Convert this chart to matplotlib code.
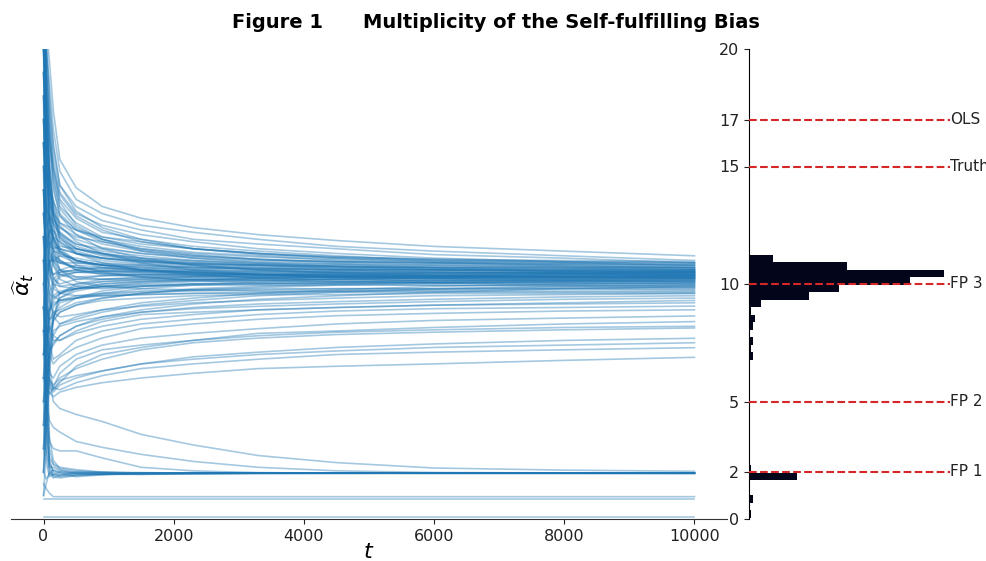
import matplotlib
matplotlib.use("Agg")
import matplotlib.pyplot as plt

# ---------------- data ----------------
t_grid = [0, 40, 90, 150, 250, 500, 900, 1500, 2300, 3300, 4500, 6000, 8000, 10000]

main_paths = [
    # high start, ending 10.4-11.2
    [24, 21, 19.5, 17.4, 15.3, 14.1, 13.3, 12.8, 12.4, 12.1, 11.85, 11.6, 11.4, 11.2],
    [22, 20, 18.5, 16.6, 14.8, 13.6, 13.0, 12.5, 12.2, 11.9, 11.6, 11.4, 11.2, 11.0],
    [25, 20, 17.6, 16.0, 14.2, 13.3, 12.7, 12.3, 11.9, 11.7, 11.5, 11.25, 11.1, 10.9],
    [21, 19, 17.0, 15.4, 13.9, 13.0, 12.5, 12.1, 11.8, 11.5, 11.3, 11.1, 10.95, 10.8],
    [23, 18, 16.2, 14.8, 13.6, 12.8, 12.2, 11.9, 11.6, 11.4, 11.2, 11.0, 10.9, 10.75],
    [20, 17, 15.8, 14.4, 13.3, 12.6, 12.0, 11.8, 11.5, 11.3, 11.1, 10.95, 10.8, 10.7],
    [19, 16.5, 15.0, 14.0, 13.0, 12.3, 11.9, 11.6, 11.35, 11.2, 11.0, 10.9, 10.75, 10.65],
    [24, 18, 14.5, 13.6, 12.6, 12.1, 11.7, 11.4, 11.2, 11.05, 10.9, 10.8, 10.7, 10.6],
    [18, 15.5, 14.2, 13.2, 12.4, 11.9, 11.55, 11.3, 11.1, 10.95, 10.85, 10.7, 10.6, 10.55],
    [22, 17, 14.0, 12.9, 12.2, 11.7, 11.4, 11.2, 11.0, 10.85, 10.75, 10.65, 10.55, 10.5],
    [17, 15, 13.6, 12.6, 12.0, 11.5, 11.25, 11.05, 10.9, 10.8, 10.65, 10.6, 10.5, 10.45],
    [25, 19, 15.2, 13.0, 11.8, 11.3, 11.1, 10.9, 10.8, 10.7, 10.6, 10.5, 10.45, 10.4],
    # moderate start, ending 10.0-10.9
    [16, 14.5, 13.4, 13.0, 12.6, 12.3, 12.0, 11.7, 11.5, 11.3, 11.15, 11.05, 10.95, 10.9],
    [14, 13.2, 12.9, 12.7, 12.4, 12.0, 11.8, 11.5, 11.3, 11.15, 11.05, 10.95, 10.9, 10.85],
    [12, 12.5, 12.8, 12.6, 12.1, 11.7, 11.5, 11.3, 11.15, 11.0, 10.95, 10.9, 10.85, 10.8],
    [10, 11.5, 12.2, 12.3, 11.9, 11.5, 11.3, 11.1, 11.0, 10.9, 10.85, 10.8, 10.75, 10.7],
    [15, 13, 12.0, 11.6, 11.5, 11.3, 11.1, 11.0, 10.9, 10.8, 10.75, 10.7, 10.65, 10.6],
    [9, 10.5, 11.6, 12.0, 11.8, 11.4, 11.1, 10.95, 10.85, 10.75, 10.7, 10.6, 10.6, 10.55],
    [13, 12, 11.3, 11.0, 10.9, 10.9, 10.85, 10.8, 10.7, 10.65, 10.6, 10.55, 10.5, 10.5],
    [8, 10, 11.0, 11.4, 11.3, 11.0, 10.8, 10.7, 10.65, 10.6, 10.55, 10.5, 10.45, 10.45],
    [14, 12, 10.8, 10.4, 10.5, 10.6, 10.7, 10.65, 10.6, 10.55, 10.5, 10.45, 10.45, 10.4],
    [11, 11.5, 11.8, 11.5, 11.0, 10.7, 10.6, 10.55, 10.5, 10.45, 10.4, 10.4, 10.35, 10.35],
    [17, 13, 11.0, 10.2, 10.0, 10.2, 10.35, 10.4, 10.4, 10.4, 10.35, 10.35, 10.3, 10.3],
    [6, 8, 9.5, 10.2, 10.5, 10.6, 10.5, 10.45, 10.4, 10.3, 10.3, 10.25, 10.2, 10.2],
    [15, 12, 10.5, 9.8, 9.6, 9.8, 10.0, 10.1, 10.15, 10.15, 10.1, 10.15, 10.1, 10.1],
    [7, 9, 10.8, 11.2, 11.0, 10.6, 10.4, 10.3, 10.2, 10.15, 10.1, 10.05, 10.0, 10.0],
    # coming from below, ending 9.3-10.5
    [1, 3, 6.0, 8.5, 9.6, 10.0, 10.2, 10.3, 10.35, 10.4, 10.45, 10.45, 10.5, 10.5],
    [4, 6, 8.0, 9.0, 9.4, 9.7, 9.9, 10.05, 10.15, 10.25, 10.3, 10.35, 10.4, 10.45],
    [10, 9, 8.5, 8.6, 9.0, 9.4, 9.7, 9.9, 10.0, 10.1, 10.2, 10.3, 10.35, 10.4],
    [6, 7, 8.8, 9.5, 9.7, 9.8, 9.9, 10.0, 10.1, 10.15, 10.2, 10.25, 10.3, 10.35],
    [13, 11, 10.0, 9.5, 9.3, 9.4, 9.6, 9.8, 9.95, 10.05, 10.1, 10.15, 10.2, 10.25],
    [3, 5, 7.5, 8.5, 8.8, 9.1, 9.4, 9.6, 9.8, 9.9, 10.0, 10.1, 10.15, 10.2],
    [11, 10, 9.2, 8.8, 8.9, 9.2, 9.4, 9.6, 9.75, 9.85, 9.95, 10.05, 10.1, 10.15],
    [2, 4, 6.5, 7.8, 8.3, 8.6, 8.9, 9.2, 9.4, 9.6, 9.75, 9.9, 10.0, 10.05],
    [12, 11, 9.5, 8.6, 8.3, 8.5, 8.8, 9.1, 9.3, 9.5, 9.65, 9.8, 9.9, 9.95],
    [5, 6, 7.0, 7.5, 7.8, 8.2, 8.6, 8.9, 9.15, 9.35, 9.5, 9.65, 9.8, 9.9],
    [8, 8.5, 9.0, 9.2, 9.3, 9.4, 9.5, 9.55, 9.6, 9.65, 9.7, 9.75, 9.8, 9.8],
    [20, 16, 13.0, 11.5, 10.6, 10.1, 9.9, 9.8, 9.75, 9.7, 9.7, 9.7, 9.7, 9.7],
    [7, 7.5, 8.5, 8.8, 8.6, 8.7, 8.9, 9.05, 9.2, 9.3, 9.4, 9.5, 9.55, 9.6],
    [9, 8, 7.2, 7.4, 7.8, 8.2, 8.5, 8.8, 9.0, 9.15, 9.25, 9.35, 9.45, 9.5],
    [4, 5.5, 7.0, 8.0, 8.2, 8.4, 8.6, 8.8, 8.95, 9.05, 9.15, 9.25, 9.35, 9.4],
    [14, 10, 8.0, 7.6, 7.6, 7.9, 8.2, 8.5, 8.7, 8.9, 9.0, 9.1, 9.2, 9.3],
    # high start, slow decay to 9.9-10.5
    [23, 18, 15.0, 13.2, 12.2, 11.6, 11.3, 11.0, 10.8, 10.6, 10.5, 10.4, 10.4, 10.35],
    [21, 16, 13.5, 12.0, 11.4, 11.0, 10.8, 10.6, 10.5, 10.4, 10.35, 10.3, 10.25, 10.25],
    [19, 15, 12.5, 11.2, 10.6, 10.5, 10.55, 10.5, 10.45, 10.4, 10.35, 10.3, 10.3, 10.3],
    [16, 13.5, 12.0, 11.0, 10.4, 10.2, 10.2, 10.25, 10.3, 10.3, 10.3, 10.25, 10.2, 10.2],
    [18, 15, 12.8, 11.8, 11.3, 11.0, 10.8, 10.6, 10.5, 10.4, 10.3, 10.2, 10.15, 10.1],
    [17, 14, 11.8, 10.8, 10.2, 9.9, 9.8, 9.9, 10.0, 10.0, 10.05, 10.05, 10.1, 10.1],
    [22, 17.5, 14.8, 13.4, 12.5, 11.8, 11.3, 10.9, 10.6, 10.4, 10.25, 10.1, 10.05, 10.0],
    [24, 19, 16.0, 14.2, 12.9, 12.1, 11.5, 11.1, 10.8, 10.6, 10.45, 10.35, 10.3, 10.25],
    [20, 16.5, 14.2, 12.9, 12.0, 11.3, 10.9, 10.6, 10.4, 10.25, 10.15, 10.05, 9.95, 9.9],
    [25, 20, 17.0, 15.0, 13.5, 12.5, 11.9, 11.4, 11.1, 10.9, 10.75, 10.65, 10.55, 10.5],
    # further paths filling the core band
    [21, 17, 14.5, 13.0, 12.1, 11.5, 11.2, 11.0, 10.85, 10.8, 10.7, 10.7, 10.65, 10.6],
    [15, 13.5, 12.6, 12.2, 11.7, 11.3, 11.0, 10.85, 10.75, 10.7, 10.65, 10.6, 10.55, 10.55],
    [11, 11.8, 12.3, 12.0, 11.4, 11.0, 10.8, 10.7, 10.6, 10.55, 10.5, 10.5, 10.45, 10.45],
    [19, 15, 12.4, 11.3, 10.9, 10.7, 10.65, 10.6, 10.55, 10.5, 10.45, 10.4, 10.4, 10.4],
    [9, 10, 10.9, 11.1, 10.9, 10.7, 10.55, 10.5, 10.45, 10.4, 10.4, 10.35, 10.35, 10.35],
    [13, 11.5, 10.6, 10.4, 10.6, 10.8, 10.7, 10.6, 10.5, 10.45, 10.4, 10.35, 10.3, 10.3],
    [5, 7, 9.0, 10.0, 10.4, 10.5, 10.45, 10.4, 10.35, 10.3, 10.3, 10.25, 10.25, 10.25],
    [23, 18, 14.2, 12.5, 11.5, 11.0, 10.7, 10.55, 10.45, 10.4, 10.35, 10.3, 10.3, 10.3],
    [16, 13, 11.5, 10.8, 10.4, 10.3, 10.35, 10.4, 10.4, 10.35, 10.3, 10.3, 10.3, 10.35],
    [3, 5, 7.0, 8.6, 9.4, 9.8, 10.0, 10.1, 10.2, 10.25, 10.3, 10.35, 10.4, 10.4],
    [12, 10.5, 9.6, 9.4, 9.6, 9.9, 10.1, 10.2, 10.3, 10.35, 10.4, 10.45, 10.45, 10.5],
    [20, 16, 13.2, 12.0, 11.2, 10.9, 10.8, 10.75, 10.7, 10.65, 10.6, 10.6, 10.55, 10.55],
    [7, 8.5, 10.2, 11.0, 11.2, 11.1, 10.9, 10.8, 10.7, 10.65, 10.6, 10.6, 10.6, 10.6],
    [18, 14.5, 12.6, 11.9, 11.5, 11.3, 11.1, 10.95, 10.85, 10.8, 10.75, 10.7, 10.7, 10.65],
    [24, 19.5, 16.5, 14.6, 13.2, 12.4, 11.9, 11.5, 11.25, 11.05, 10.95, 10.85, 10.8, 10.7],
    [14, 12.5, 11.6, 11.5, 11.6, 11.5, 11.3, 11.1, 10.95, 10.85, 10.8, 10.75, 10.7, 10.7],
    [10, 10.5, 11.0, 11.0, 10.6, 10.3, 10.2, 10.2, 10.2, 10.2, 10.2, 10.2, 10.15, 10.15],
    [6, 7.5, 8.8, 9.3, 9.6, 9.8, 9.9, 9.95, 10.0, 10.0, 10.05, 10.05, 10.05, 10.05],
    [17, 13.5, 11.2, 10.3, 9.9, 9.8, 9.85, 9.9, 9.95, 9.95, 9.95, 9.95, 9.95, 9.95],
    [2, 4.5, 7.2, 8.6, 9.2, 9.4, 9.55, 9.65, 9.7, 9.75, 9.8, 9.8, 9.85, 9.85],
    [9, 8.8, 8.9, 9.1, 9.3, 9.5, 9.6, 9.7, 9.75, 9.8, 9.8, 9.8, 9.8, 9.75],
    [22, 17, 14.0, 12.4, 11.4, 10.8, 10.5, 10.3, 10.15, 10.05, 10.0, 9.95, 9.9, 9.85],
    [13, 12, 10.8, 10.0, 9.6, 9.5, 9.5, 9.55, 9.6, 9.6, 9.65, 9.65, 9.65, 9.65],
    [8, 7.8, 8.0, 8.4, 8.8, 9.1, 9.3, 9.4, 9.5, 9.55, 9.55, 9.6, 9.6, 9.6],
    [25, 21, 18.0, 15.8, 14.2, 13.1, 12.4, 11.9, 11.5, 11.25, 11.1, 11.0, 10.95, 10.9],
    [20, 18, 16.3, 15.0, 13.8, 12.9, 12.3, 11.8, 11.5, 11.3, 11.15, 11.05, 11.0, 10.95],
    [16, 14.8, 14.0, 13.5, 12.9, 12.3, 11.8, 11.45, 11.2, 11.05, 10.95, 10.9, 10.85, 10.8],
    [4, 6.5, 8.6, 9.8, 10.3, 10.5, 10.55, 10.55, 10.55, 10.5, 10.5, 10.5, 10.5, 10.5],
    [12, 11.2, 10.5, 10.0, 9.9, 10.0, 10.1, 10.15, 10.2, 10.2, 10.25, 10.25, 10.25, 10.25],
    [19, 15.5, 13.0, 11.8, 11.0, 10.6, 10.45, 10.35, 10.3, 10.25, 10.2, 10.15, 10.15, 10.15],
]

lower_paths = [
    [14, 10, 7.5, 6.8, 7.0, 7.6, 8.0, 8.3, 8.5, 8.7, 8.85, 8.95, 9.0, 9.06],
    [5, 6.5, 7.0, 6.6, 6.9, 7.3, 7.7, 8.1, 8.3, 8.5, 8.65, 8.75, 8.85, 8.9],
    [11, 8, 6.2, 6.0, 6.5, 7.0, 7.4, 7.7, 7.9, 8.1, 8.3, 8.45, 8.55, 8.64],
    [3, 5, 6.0, 5.6, 6.2, 6.8, 7.2, 7.4, 7.6, 7.9, 8.0, 8.15, 8.3, 8.4],
    [16, 9, 6.5, 5.5, 5.8, 6.5, 7.0, 7.3, 7.6, 7.8, 7.95, 8.05, 8.15, 8.2],
    [8, 6.5, 5.9, 5.7, 6.0, 6.4, 6.8, 7.2, 7.5, 7.7, 7.85, 7.95, 8.05, 8.13],
    [12, 7.5, 5.6, 5.4, 5.7, 6.0, 6.3, 6.6, 6.9, 7.1, 7.3, 7.45, 7.6, 7.69],
    [2, 4, 5.8, 5.5, 5.9, 6.1, 6.3, 6.6, 6.8, 7.0, 7.15, 7.3, 7.4, 7.5],
    [9, 6, 5.3, 5.6, 5.5, 5.8, 6.1, 6.4, 6.6, 6.8, 7.0, 7.1, 7.2, 7.29],
    [6, 5.5, 5.4, 5.2, 5.4, 5.6, 5.8, 6.0, 6.2, 6.4, 6.5, 6.6, 6.75, 6.88],
    [7, 8, 8.2, 7.8, 7.6, 8.0, 8.4, 8.7, 8.8, 8.9, 9.0, 9.1, 9.15, 9.2],
]

fp1_paths = [
    [8, 4, 2.1, 1.9, 2.0, 1.95, 2.0, 1.95, 1.97, 1.96, 1.95, 1.95, 1.94, 1.94],
    [12, 6, 2.5, 2.0, 1.85, 1.9, 1.92, 1.95, 1.95, 1.95, 1.96, 1.95, 1.95, 1.95],
    [5, 3, 2.2, 2.2, 2.05, 2.0, 1.95, 1.9, 1.93, 1.95, 1.94, 1.96, 1.95, 1.95],
    [3, 2.4, 1.8, 1.9, 1.8, 1.85, 1.9, 1.92, 1.94, 1.94, 1.95, 1.95, 1.95, 1.94],
    [15, 7, 3.0, 2.3, 2.1, 1.95, 1.9, 1.93, 1.96, 1.97, 1.95, 1.94, 1.95, 1.95],
    [2, 1.7, 1.9, 2.1, 1.95, 1.8, 1.88, 1.95, 1.93, 1.94, 1.95, 1.95, 1.96, 1.95],
    [10, 5, 2.3, 1.8, 1.75, 1.85, 1.9, 1.9, 1.92, 1.94, 1.94, 1.95, 1.94, 1.94],
    [6, 3.5, 2.6, 2.35, 2.2, 2.1, 2.0, 1.97, 1.96, 1.95, 1.95, 1.95, 1.95, 1.95],
    [1, 1.5, 2.0, 1.85, 1.9, 2.0, 1.97, 1.93, 1.95, 1.95, 1.95, 1.96, 1.95, 1.95],
    [18, 9, 3.5, 2.5, 2.15, 2.05, 1.98, 1.94, 1.94, 1.95, 1.95, 1.94, 1.95, 1.95],
    [4, 2.8, 1.95, 1.75, 1.85, 1.95, 1.9, 1.95, 1.96, 1.95, 1.95, 1.95, 1.95, 1.95],
    [9, 4.5, 2.4, 2.05, 2.0, 1.9, 1.95, 1.97, 1.95, 1.96, 1.95, 1.95, 1.95, 1.96],
    [20, 10, 6.0, 5.0, 4.7, 4.45, 4.15, 3.6, 3.15, 2.7, 2.4, 2.17, 2.08, 2.03],
    [7, 5, 4.2, 3.9, 3.7, 3.3, 3.05, 2.75, 2.45, 2.2, 2.05, 1.98, 1.96, 1.95],
    [11, 5, 3.3, 3.0, 2.9, 2.9, 2.6, 2.2, 2.05, 1.97, 1.96, 1.95, 1.95, 1.95],
]

flat_paths = [
    [1.5, 1.3, 1.1, 0.95, 0.95, 0.95, 0.95, 0.95, 0.95, 0.95, 0.95, 0.95, 0.95, 0.95],
    [0.84, 0.84, 0.84, 0.84, 0.84, 0.84, 0.84, 0.84, 0.84, 0.84, 0.84, 0.84, 0.84, 0.84],
    [0.07, 0.07, 0.07, 0.07, 0.07, 0.07, 0.07, 0.07, 0.07, 0.07, 0.07, 0.07, 0.07, 0.07],
]

# histogram of final estimates (bins of width 0.32 from 0.05 to 11.25, bottom to top)
hist_edges = [round(0.05 + 0.32 * k, 2) for k in range(36)]
hist_counts = [1, 0, 2, 0, 0, 24, 1, 0, 0, 0, 0, 0, 0, 0, 0, 0, 0, 0, 0, 0, 0,
               2, 1, 2, 0, 2, 3, 1, 6, 30, 45, 80, 97, 49, 12]

ref_levels = [17, 15, 10, 5, 2]
ref_labels = ["OLS", "Truth", "FP 3", "FP 2", "FP 1"]
right_yticks = [0, 2, 5, 10, 15, 17, 20]
x_ticks = [0, 2000, 4000, 6000, 8000, 10000]

# ---------------- figure ----------------
W, H = 987, 561
fig = plt.figure(figsize=(W / 100, H / 100), dpi=100)
ax = fig.add_axes([11 / W, 42 / H, 716 / W, 470 / H])
axh = fig.add_axes([749 / W, 42 / H, 201 / W, 470 / H])

line_kw = dict(color="#1f77b4", alpha=0.4, lw=1.2)
for group in (main_paths, lower_paths, fp1_paths, flat_paths):
    for p in group:
        ax.plot(t_grid, p, **line_kw)

ax.set_xlim(-500, 10500)
ax.set_ylim(0, 20)
for s in ("left", "top", "right"):
    ax.spines[s].set_visible(False)
ax.spines["bottom"].set_color("#333333")
ax.tick_params(axis="y", left=False, labelleft=False)
ax.set_xticks(x_ticks)
ax.tick_params(axis="x", labelsize=11.5, colors="#222222")
ax.set_xlabel("$t$", fontsize=16)
ax.xaxis.set_label_coords(0.5, -0.048)
ax.set_ylabel(r"$\widehat{\alpha}_t$", fontsize=16)
ax.yaxis.set_label_coords(0.035, 0.5)

# histogram panel
centers = [(hist_edges[i] + hist_edges[i + 1]) / 2 for i in range(len(hist_counts))]
widths = [hist_edges[i + 1] - hist_edges[i] for i in range(len(hist_counts))]
axh.barh(centers, hist_counts, height=widths, color="#03051A", linewidth=0)
axh.set_xlim(0, 100)
axh.set_ylim(0, 20)
for lvl, lab in zip(ref_levels, ref_labels):
    axh.axhline(lvl, color="#d62728", ls="--", lw=1.5, zorder=3)
    axh.text(1.0, lvl, lab, transform=axh.get_yaxis_transform(),
             ha="left", va="center", fontsize=11, color="#222222")
axh.set_yticks(right_yticks)
axh.tick_params(axis="y", labelsize=11.5, colors="#222222")
axh.tick_params(axis="x", bottom=False, labelbottom=False)
for s in ("top", "right", "bottom"):
    axh.spines[s].set_visible(False)

fig.text(232 / W, 1 - 22 / H, "Figure 1", ha="left", va="center",
         fontsize=14, fontweight="bold")
fig.text(363 / W, 1 - 22 / H, "Multiplicity of the Self-fulfilling Bias",
         ha="left", va="center", fontsize=14, fontweight="bold")

fig.savefig("out.png", dpi=100)
